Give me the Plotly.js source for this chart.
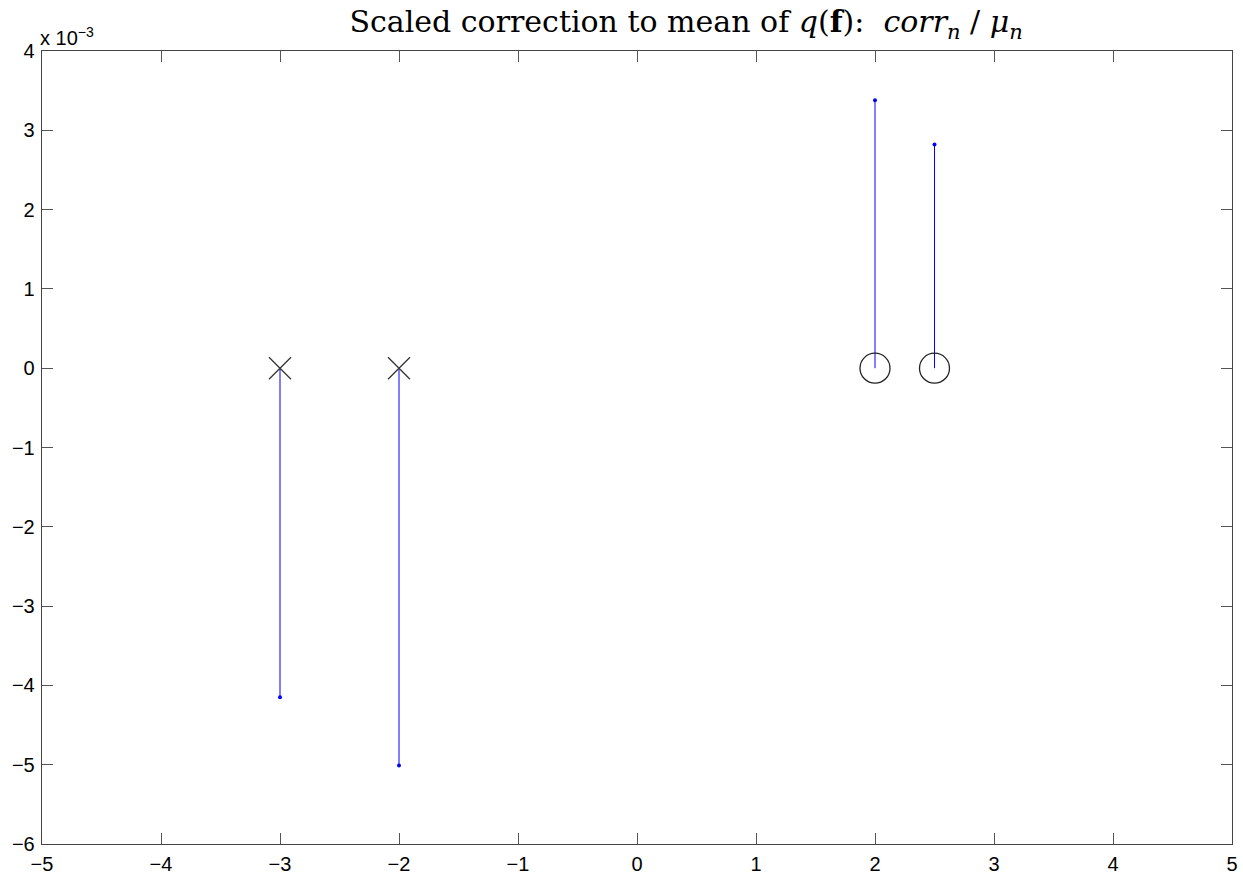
<!DOCTYPE html>
<html>
<head>
<meta charset="utf-8">
<script src="https://cdn.plot.ly/plotly-3.0.1.min.js"></script>
<style>html,body{margin:0;padding:0;background:#fff;}#chart{width:1243px;height:877px;}</style>
</head>
<body>
<div id="chart"></div>
<script>
// Stem data (values in units of 1e-3)
const stemX = [-3, -2, 2, 2.5];
const stemY = [-4.15, -5.01, 3.38, 2.82];
// Pole (x) and zero (o) markers
const crossX = [-3, -2];
const crossY = [0, 0];
const circleX = [2, 2.5];
const circleY = [0, 0];
const xTicks = [-5, -4, -3, -2, -1, 0, 1, 2, 3, 4, 5];
const xTickText = ['\u22125', '\u22124', '\u22123', '\u22122', '\u22121', '0', '1', '2', '3', '4', '5'];
const yTicks = [-6, -5, -4, -3, -2, -1, 0, 1, 2, 3, 4];
const yTickText = ['\u22126', '\u22125', '\u22124', '\u22123', '\u22122', '\u22121', '0', '1', '2', '3', '4'];

const traces = [];
// stems
stemX.forEach((x, i) => {
  traces.push({
    x: [x, x], y: [0, stemY[i]], mode: 'lines', type: 'scatter',
    line: {color: '#0000ff', width: 1}, hoverinfo: 'skip', showlegend: false
  });
});
traces.push({
  x: stemX, y: stemY, mode: 'markers', type: 'scatter',
  marker: {color: '#0000ff', size: 4}, showlegend: false
});
traces.push({
  x: crossX, y: crossY, mode: 'markers', type: 'scatter',
  marker: {symbol: 'x-thin-open', size: 22, color: '#333333', line: {color: '#333333', width: 1.3}},
  showlegend: false
});
traces.push({
  x: circleX, y: circleY, mode: 'markers', type: 'scatter',
  marker: {symbol: 'circle-open', size: 30, color: '#222222', line: {color: '#222222', width: 1.3}},
  showlegend: false
});

const axisCommon = {
  showgrid: false, zeroline: false, showline: true, mirror: 'ticks',
  linecolor: '#444444', linewidth: 1.3, ticks: 'inside', ticklen: 11,
  tickcolor: '#555555', tickwidth: 1,
  tickfont: {family: 'Liberation Sans, Arial, sans-serif', size: 20, color: '#000000'}
};

const layout = {
  width: 1243, height: 877,
  margin: {l: 42, r: 11, t: 51, b: 33},
  paper_bgcolor: '#ffffff', plot_bgcolor: '#ffffff',
  title: {
    text: 'Scaled correction to mean of <i>q</i>(<b>f</b>):  <i>corr</i><sub><i>n</i></sub> / <i>\u03bc</i><sub><i>n</i></sub>',
    font: {family: 'DejaVu Serif, Liberation Serif, serif', size: 30, color: '#000000'},
    x: 0.552, xanchor: 'center', y: 0.975, yanchor: 'middle'
  },
  xaxis: Object.assign({}, axisCommon, {
    range: [-5, 5], tickvals: xTicks, ticktext: xTickText, ticklabelstandoff: 2
  }),
  yaxis: Object.assign({}, axisCommon, {
    range: [-6, 4], tickvals: yTicks, ticktext: yTickText, ticklabelstandoff: 2
  }),
  annotations: [{
    text: 'x 10<sup>\u22123</sup>', xref: 'paper', yref: 'paper',
    x: 0, y: 1, xanchor: 'left', yanchor: 'bottom', showarrow: false,
    xshift: -4, yshift: 0,
    font: {family: 'Liberation Sans, Arial, sans-serif', size: 20, color: '#000000'}
  }],
  showlegend: false
};

Plotly.newPlot('chart', traces, layout, {displayModeBar: false, staticPlot: true});
</script>
</body>
</html>
